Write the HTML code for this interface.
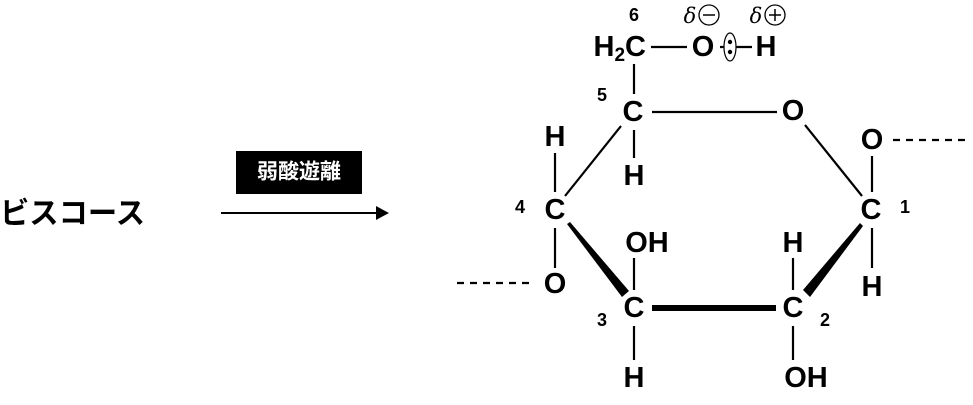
<!DOCTYPE html>
<html><head><meta charset="utf-8"><style>
body{margin:0;background:#fff}
svg{display:block}
.a{font-family:"Liberation Sans",sans-serif;font-weight:bold;font-size:29px;text-anchor:middle;dominant-baseline:central}
.n{font-family:"Liberation Sans",sans-serif;font-weight:bold;font-size:18px;text-anchor:middle;dominant-baseline:central}
</style></head><body>
<svg width="973" height="405" viewBox="0 0 973 405" xmlns="http://www.w3.org/2000/svg">
<text x="0" y="214" font-family="'Liberation Sans','Noto Sans CJK JP',sans-serif" font-size="30" font-weight="bold" textLength="145" lengthAdjust="spacingAndGlyphs" dominant-baseline="central">ビスコース</text>
<rect x="236" y="151" width="126" height="43" fill="#000"/>
<text x="299" y="172" fill="#fff" font-family="'Liberation Sans','Noto Sans CJK JP',sans-serif" font-size="21" font-weight="bold" text-anchor="middle" dominant-baseline="central">弱酸遊離</text>
<line x1="221" y1="213" x2="378" y2="213" stroke="#000" stroke-width="2"/>
<polygon points="376,206 389,213 376,220" fill="#000"/>
<g stroke="#000" stroke-width="2.2" fill="none">
<line x1="652" y1="112" x2="777" y2="112"/>
<line x1="805" y1="125" x2="862" y2="196"/>
<line x1="621" y1="126" x2="565" y2="196"/>
<line x1="634" y1="64" x2="634" y2="94"/>
<line x1="634" y1="130" x2="634" y2="158"/>
<line x1="555" y1="153" x2="555" y2="192"/>
<line x1="555" y1="228" x2="555" y2="268"/>
<line x1="872" y1="156" x2="872" y2="192"/>
<line x1="872" y1="228" x2="872" y2="268"/>
<line x1="634" y1="258" x2="634" y2="290"/>
<line x1="634" y1="326" x2="634" y2="360"/>
<line x1="793" y1="258" x2="793" y2="290"/>
<line x1="793" y1="326" x2="793" y2="360"/>
<line x1="651" y1="47" x2="687" y2="47"/>
<line x1="720" y1="47" x2="752" y2="47"/>
<line x1="457" y1="283" x2="535" y2="283" stroke-dasharray="7,6"/>
<line x1="893" y1="140" x2="970" y2="140" stroke-dasharray="7,6"/>
</g>
<line x1="652" y1="308" x2="776" y2="308" stroke="#000" stroke-width="6"/>
<polygon points="567,224 570,222 629,291 622,297" fill="#000"/>
<polygon points="860,223 863,226 810,297 803,290" fill="#000"/>
<ellipse cx="730" cy="47" rx="6" ry="14" fill="#fff" stroke="#000" stroke-width="1.2"/>
<circle cx="730" cy="42" r="2.2" fill="#000"/>
<circle cx="730" cy="52" r="2.2" fill="#000"/>
<text class="a" x="646" y="47" style="text-anchor:end">H<tspan font-size="19" dy="8">2</tspan><tspan dy="-8">C</tspan></text>
<text class="a" x="703" y="47">O</text>
<text class="a" x="766" y="47">H</text>
<text x="690" y="16" font-family="'DejaVu Serif',serif" font-style="italic" font-size="21" text-anchor="middle" dominant-baseline="central">δ</text>
<circle cx="709" cy="15" r="10" fill="none" stroke="#000" stroke-width="1.3"/>
<line x1="703" y1="15" x2="715" y2="15" stroke="#000" stroke-width="1.5"/>
<text x="756" y="16" font-family="'DejaVu Serif',serif" font-style="italic" font-size="21" text-anchor="middle" dominant-baseline="central">δ</text>
<circle cx="775" cy="15" r="10" fill="none" stroke="#000" stroke-width="1.3"/>
<line x1="769" y1="15" x2="781" y2="15" stroke="#000" stroke-width="1.5"/>
<line x1="775" y1="9" x2="775" y2="21" stroke="#000" stroke-width="1.5"/>
<text class="n" x="634" y="15">6</text>
<text class="n" x="602" y="95">5</text>
<text class="n" x="520" y="207">4</text>
<text class="n" x="602" y="320">3</text>
<text class="n" x="825" y="320">2</text>
<text class="n" x="905" y="207">1</text>
<text class="a" x="633" y="112">C</text>
<text class="a" x="793" y="111">O</text>
<text class="a" x="872" y="140">O</text>
<text class="a" x="871" y="210">C</text>
<text class="a" x="872" y="287">H</text>
<text class="a" x="555" y="210">C</text>
<text class="a" x="555" y="137">H</text>
<text class="a" x="634" y="176">H</text>
<text class="a" x="555" y="284">O</text>
<text class="a" x="634" y="308">C</text>
<text class="a" x="793" y="308">C</text>
<text class="a" x="647" y="243">OH</text>
<text class="a" x="793" y="243">H</text>
<text class="a" x="634" y="378">H</text>
<text class="a" x="806" y="378">OH</text>
</svg>
</body></html>
